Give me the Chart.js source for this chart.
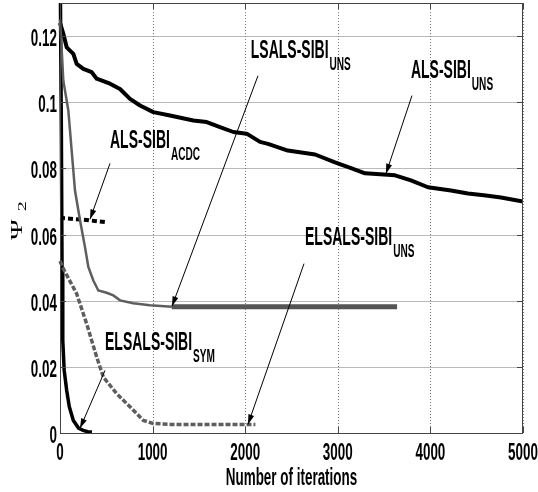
<!DOCTYPE html>
<html>
    <head>
        <title>Psi2 vs iterations</title>
        <script src="https://cdn.jsdelivr.net/npm/chart.js@4.4.1/dist/chart.umd.min.js"></script>
        <style>
            body { margin: 0; background: #fff; }
        </style>
    </head>
    <body>
        <canvas id="myChart" width="538" height="492"></canvas>

        <script>
            // tick labels
            const xTicks = [0, 1000, 2000, 3000, 4000, 5000];
            const yTicks = [0, 0.02, 0.04, 0.06, 0.08, 0.1, 0.12];

            // ALS-SIBI UNS (black, thick)
            const alsUnsIter = [0, 36, 72, 144, 180, 252, 342, 396, 540, 648, 756, 864, 1008, 1188, 1440, 1584, 1728, 1872, 2016, 2160, 2246, 2460, 2755, 2970, 3150, 3294, 3618, 3790, 3974, 4222, 4406, 4600, 4762, 5000];
            const alsUnsVal  = [0.124, 0.1207, 0.1166, 0.1146, 0.1116, 0.1101, 0.1091, 0.1071, 0.1056, 0.104, 0.101, 0.099, 0.097, 0.096, 0.0945, 0.094, 0.0925, 0.091, 0.0905, 0.088, 0.0874, 0.0854, 0.0842, 0.0818, 0.080, 0.0785, 0.0779, 0.0764, 0.0743, 0.0733, 0.0724, 0.0718, 0.0712, 0.070];

            // LSALS-SIBI UNS (grey), thin part then the flat thick part
            const lsalsIter = [0, 20, 36, 90, 126, 162, 216, 270, 306, 360, 414, 504, 576, 648, 790, 972, 1206];
            const lsalsVal  = [0.125, 0.115, 0.1065, 0.0975, 0.0854, 0.0733, 0.0643, 0.0562, 0.0502, 0.0461, 0.0431, 0.0424, 0.0416, 0.0401, 0.0392, 0.0386, 0.0382];
            const lsalsFlatIter = [1206, 3640];
            const lsalsFlatVal  = [0.0382, 0.0382];

            // ELSALS-SIBI UNS (grey dashed)
            const elsUnsIter = [0, 30, 180, 288, 396, 468, 612, 792, 900, 1005, 1200, 2110];
            const elsUnsVal  = [0.052, 0.050, 0.0421, 0.033, 0.023, 0.0169, 0.0119, 0.0069, 0.0038, 0.0029, 0.0026, 0.0026];

            // ELSALS-SIBI SYM (black)
            const elsSymIter = [0, 15, 22, 30, 45, 72, 100, 144, 200, 250, 300, 345];
            const elsSymVal  = [0.15, 0.09, 0.05, 0.028, 0.019, 0.0129, 0.008, 0.0038, 0.0015, 0.0008, 0.0004, 0.0003];

            // ALS-SIBI ACDC (black dashed)
            const acdcIter = [0, 250, 510];
            const acdcVal  = [0.065, 0.0645, 0.0637];

            // labels: text, subscript, left/baseline in data units, arrow tail -> head
            const notes = [
                { text: 'LSALS-SIBI', sub: 'UNS', x: 2060, y: 0.1135, from: [2138, 0.108], to: [1209, 0.0383] },
                { text: 'ALS-SIBI', sub: 'UNS', x: 3790, y: 0.1074, from: [3801, 0.102], to: [3520, 0.0784] },
                { text: 'ALS-SIBI', sub: 'ACDC', x: 540, y: 0.0863, from: [540, 0.0815], to: [324, 0.0646] },
                { text: 'ELSALS-SIBI', sub: 'UNS', x: 2646, y: 0.0569, from: [2635, 0.0512], to: [2030, 0.0026] },
                { text: 'ELSALS-SIBI', sub: 'SYM', x: 486, y: 0.025, from: [486, 0.0189], to: [216, 0.0014] }
            ];

            const pts = (xs, ys) => xs.map((x, i) => ({ x: x, y: ys[i] }));

            const SQ = 0.56;   // the original lettering is squeezed sideways
            const FONT = "'Liberation Sans', Arial, sans-serif";

            function squeezed(ctx, text, x, y, size, align) {
                ctx.save();
                ctx.font = 'bold ' + size + 'px ' + FONT;
                let w = ctx.measureText(text).width * SQ;
                let left = x;
                if (align == 'center') left = x - w / 2;
                if (align == 'right') left = x - w;
                ctx.translate(left, y);
                ctx.scale(SQ, 1);
                ctx.textAlign = 'left';
                ctx.textBaseline = 'alphabetic';
                ctx.fillText(text, 0, 0);
                ctx.restore();
                return w;
            }

            function arrow(ctx, x1, y1, x2, y2) {
                ctx.beginPath();
                ctx.moveTo(x1, y1);
                ctx.lineTo(x2, y2);
                ctx.stroke();
                let a = Math.atan2(y2 - y1, x2 - x1);
                ctx.beginPath();
                ctx.moveTo(x2, y2);
                ctx.lineTo(x2 - 10 * Math.cos(a) + 3 * Math.sin(a), y2 - 10 * Math.sin(a) - 3 * Math.cos(a));
                ctx.lineTo(x2 - 10 * Math.cos(a) - 3 * Math.sin(a), y2 - 10 * Math.sin(a) + 3 * Math.cos(a));
                ctx.closePath();
                ctx.fill();
            }

            const decor = {
                id: 'decor',
                beforeDatasetsDraw(chart) {
                    // grid at the scale ticks
                    const ctx = chart.ctx, xs = chart.scales.x, ys = chart.scales.y, a = chart.chartArea;
                    ctx.save();
                    ctx.lineWidth = 1;
                    ctx.strokeStyle = '#bababa';
                    for (let t of ys.ticks) {
                        let py = Math.round(ys.getPixelForValue(t.value)) + 0.5;
                        ctx.beginPath();
                        ctx.moveTo(a.left, py);
                        ctx.lineTo(a.right, py);
                        ctx.stroke();
                    }
                    ctx.strokeStyle = '#7a7a7a';
                    ctx.setLineDash([1, 2]);
                    for (let t of xs.ticks) {
                        let px = Math.round(xs.getPixelForValue(t.value)) + 0.5;
                        ctx.beginPath();
                        ctx.moveTo(px, a.top);
                        ctx.lineTo(px, a.bottom);
                        ctx.stroke();
                    }
                    ctx.restore();
                },
                afterDraw(chart) {
                    const ctx = chart.ctx;
                    const xs = chart.scales.x, ys = chart.scales.y;
                    const a = chart.chartArea;
                    ctx.save();
                    ctx.fillStyle = '#000';
                    ctx.strokeStyle = '#444';
                    ctx.lineWidth = 1;

                    // box and inside ticks
                    ctx.strokeRect(a.left + 0.5, a.top + 0.5, a.right - a.left - 1, a.bottom - a.top);
                    ctx.beginPath();
                    xs.ticks.forEach(t => {
                        let px = Math.round(xs.getPixelForValue(t.value)) + 0.5;
                        ctx.moveTo(px, a.bottom); ctx.lineTo(px, a.bottom - 6);
                        ctx.moveTo(px, a.top); ctx.lineTo(px, a.top + 6);
                    });
                    ys.ticks.forEach(t => {
                        let py = Math.round(ys.getPixelForValue(t.value)) + 0.5;
                        ctx.moveTo(a.left, py); ctx.lineTo(a.left + 6, py);
                        ctx.moveTo(a.right, py); ctx.lineTo(a.right - 6, py);
                    });
                    ctx.stroke();

                    // tick labels
                    xs.ticks.forEach(t => {
                        squeezed(ctx, String(t.value), xs.getPixelForValue(t.value), a.bottom + 27, 24, 'center');
                    });
                    ys.ticks.forEach(t => {
                        squeezed(ctx, String(t.value), a.left - 3, ys.getPixelForValue(t.value) + 10, 24, 'right');
                    });

                    // axis titles
                    squeezed(ctx, 'Number of iterations', (a.left + a.right) / 2, 485, 24, 'center');
                    ctx.save();
                    ctx.translate(22, 240);
                    ctx.scale(0.6, 1);
                    ctx.rotate(-Math.PI / 2);
                    ctx.font = "28px 'Liberation Serif', serif";
                    ctx.fillText('\u03A8', 0, 0);
                    let pw = ctx.measureText('\u03A8').width;
                    ctx.font = "20px 'Liberation Serif', serif";
                    ctx.fillText('2', pw + 8, 6);
                    ctx.restore();

                    // curve labels with arrows
                    ctx.strokeStyle = '#000';
                    notes.forEach(n => {
                        let lx = xs.getPixelForValue(n.x), ly = ys.getPixelForValue(n.y);
                        let w = squeezed(ctx, n.text, lx, ly, 25, 'left');
                        squeezed(ctx, n.sub, lx + w + 1, ly + 12, 18, 'left');
                        arrow(ctx, xs.getPixelForValue(n.from[0]), ys.getPixelForValue(n.from[1]),
                                   xs.getPixelForValue(n.to[0]), ys.getPixelForValue(n.to[1]));
                    });
                    ctx.restore();
                }
            };

            const clipBox = { left: 3, top: 0, right: 0, bottom: 3 };
            const ctx = document.getElementById('myChart');
            const myChart = new Chart(ctx, {
                type: 'line',
                data: {
                    datasets: [
                        { label: 'ELSALS-SIBI UNS', data: pts(elsUnsIter, elsUnsVal), borderColor: '#5e5e5e', borderWidth: 3.5, borderDash: [5, 2], clip: clipBox },
                        { label: 'LSALS-SIBI UNS', data: pts(lsalsIter, lsalsVal), borderColor: '#5e5e5e', borderWidth: 2.5, clip: clipBox },
                        { label: 'LSALS-SIBI UNS flat', data: pts(lsalsFlatIter, lsalsFlatVal), borderColor: '#555', borderWidth: 5, clip: clipBox },
                        { label: 'ALS-SIBI ACDC', data: pts(acdcIter, acdcVal), borderColor: '#000', borderWidth: 4, borderDash: [5, 3], clip: clipBox },
                        { label: 'ELSALS-SIBI SYM', data: pts(elsSymIter, elsSymVal), borderColor: '#000', borderWidth: 3.5, clip: clipBox },
                        { label: 'ALS-SIBI UNS', data: pts(alsUnsIter, alsUnsVal), borderColor: '#000', borderWidth: 4, borderJoinStyle: 'round', clip: clipBox }
                    ]
                },
                options: {
                    responsive: false,
                    animation: false,
                    devicePixelRatio: 1,
                    layout: { padding: { left: 0, right: 15, top: 3, bottom: 0 } },
                    elements: { point: { radius: 0 }, line: { tension: 0, fill: false } },
                    plugins: { legend: { display: false }, tooltip: { enabled: false } },
                    scales: {
                        x: {
                            type: 'linear', min: 0, max: 5000,
                            afterBuildTicks: s => { s.ticks = xTicks.map(v => ({ value: v })); },
                            afterFit: s => { s.height = 59; },
                            ticks: { display: false },
                            grid: { display: false },
                            border: { display: false }
                        },
                        y: {
                            type: 'linear', min: 0, max: 0.13,
                            afterBuildTicks: s => { s.ticks = yTicks.map(v => ({ value: v })); },
                            afterFit: s => { s.width = 60; },
                            ticks: { display: false },
                            grid: { display: false },
                            border: { display: false }
                        }
                    }
                },
                plugins: [decor]
            });
        </script>
    </body>
</html>
